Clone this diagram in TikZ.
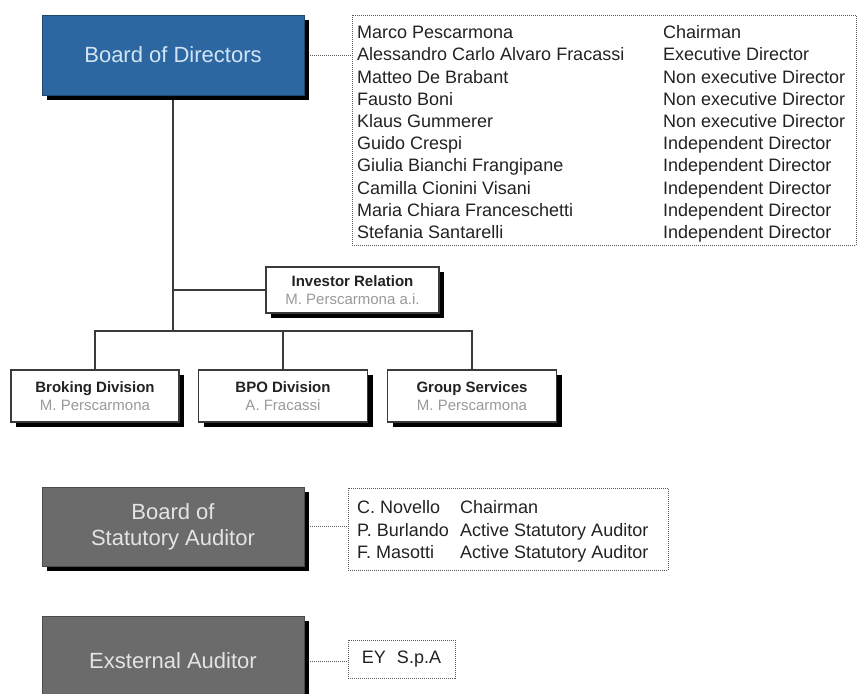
\documentclass[tikz,border=0pt]{standalone}
\usepackage{fontspec}
\setmainfont{Liberation Sans}
\usetikzlibrary{shadows}
\pgfdeclarelayer{background}
\pgfsetlayers{background,main}

\definecolor{boardblue}{HTML}{2D67A2}
\definecolor{boardtext}{HTML}{D3E4F4}
\definecolor{auditfill}{HTML}{6B6B6B}
\definecolor{audittext}{HTML}{E4E4E4}
\definecolor{ink}{HTML}{222222}
\definecolor{subgray}{HTML}{9A9A9A}
\definecolor{linegray}{HTML}{3A3A3A}
\definecolor{dotgray}{HTML}{5A5A5A}

\begin{document}
\begin{tikzpicture}[x=1pt,y=-1pt,
  hardshadow/.style={drop shadow={shadow xshift=5pt, shadow yshift=-5pt, fill=black, opacity=1}},
  bigbox/.style={rectangle, inner sep=0pt, hardshadow, align=center,
    font=\fontsize{22}{26}\selectfont},
  bluebox/.style={bigbox, fill=boardblue, draw=boardblue!70!black, line width=0.6pt, text=boardtext},
  graybox/.style={bigbox, fill=auditfill, draw=auditfill!70!black, line width=0.6pt, text=audittext},
  unitbox/.style={rectangle, inner sep=0pt, hardshadow, fill=white, draw=linegray,
    line width=1.2pt, align=center, text=ink, font=\fontsize{15}{17.5}\selectfont},
  listbox/.style={rectangle, inner sep=0pt, draw=dotgray, line width=0.8pt,
    dash pattern=on 1pt off 1pt},
  listtext/.style={inner sep=0pt, text=ink, font=\fontsize{18}{22.2}\selectfont},
  tree/.style={draw=linegray, line width=1.3pt},
  dotline/.style={draw=dotgray, line width=0.8pt, dash pattern=on 1pt off 1pt}]

\clip (0,0) rectangle (858,693);

% governing bodies
\node[bluebox, minimum width=262pt, minimum height=80pt] (board) at (173,55) {Board of Directors};
\node[graybox, minimum width=262pt, minimum height=79pt] (statutory) at (173,526.5) {Board of\\Statutory Auditor};
\node[graybox, minimum width=262pt, minimum height=90pt] (external) at (173,661) {Exsternal Auditor};

% reporting units
\node[unitbox, minimum width=173pt, minimum height=46pt] (investor) at (352.5,290)
  {\textbf{Investor Relation}\\\textcolor{subgray}{M. Perscarmona a.i.}};
\node[unitbox, minimum width=168pt, minimum height=52pt] (broking) at (95,396)
  {\textbf{Broking Division}\\\textcolor{subgray}{M. Perscarmona}};
\node[unitbox, minimum width=169pt, minimum height=52pt] (bpo) at (283,396)
  {\textbf{BPO Division}\\\textcolor{subgray}{A. Fracassi}};
\node[unitbox, minimum width=169pt, minimum height=52pt] (group) at (472,396)
  {\textbf{Group Services}\\\textcolor{subgray}{M. Perscarmona}};

% member lists
\node[listbox, minimum width=504pt, minimum height=230pt] (dirlist) at (604,130) {};
\node[listtext, anchor=north west] (dirnames) at (357,23) {%
  \begin{tabular}{@{}p{306pt}@{}l@{}}
  Marco Pescarmona & Chairman\\
  Alessandro Carlo Alvaro Fracassi & Executive Director\\
  Matteo De Brabant & Non executive Director\\
  Fausto Boni & Non executive Director\\
  Klaus Gummerer & Non executive Director\\
  Guido Crespi & Independent Director\\
  Giulia Bianchi Frangipane & Independent Director\\
  Camilla Cionini Visani & Independent Director\\
  Maria Chiara Franceschetti & Independent Director\\
  Stefania Santarelli & Independent Director
  \end{tabular}};

\node[listbox, minimum width=320pt, minimum height=82pt] (audlist) at (508,529) {};
\node[listtext, font=\fontsize{18}{22.5}\selectfont, anchor=north west] (audnames) at (357,498) {%
  \begin{tabular}{@{}p{103pt}@{}l@{}}
  C. Novello & Chairman\\
  P. Burlando & Active Statutory Auditor\\
  F. Masotti & Active Statutory Auditor
  \end{tabular}};

\node[listbox, listtext, minimum width=107pt, minimum height=38pt] (ey) at (401.5,659)
  {EY\hspace{11pt}S.p.A};

% connectors
\begin{pgfonlayer}{background}
  \coordinate (bus) at (board.south |- 0,331);
  \draw[tree] (board.south) -- (bus);
  \draw[tree] (investor.west) -- (investor.west -| board.south);
  \draw[tree] (broking.north) -- (broking.north |- bus) -| (group.north);
  \draw[tree] (bpo.north) -- (bpo.north |- bus);
  \draw[dotline] (board.east) -- (board.east -| dirlist.west);
  \draw[dotline] (statutory.east) -- (statutory.east -| audlist.west);
  \draw[dotline] (external.east) -- (external.east -| ey.west);
\end{pgfonlayer}
\end{tikzpicture}
\end{document}
